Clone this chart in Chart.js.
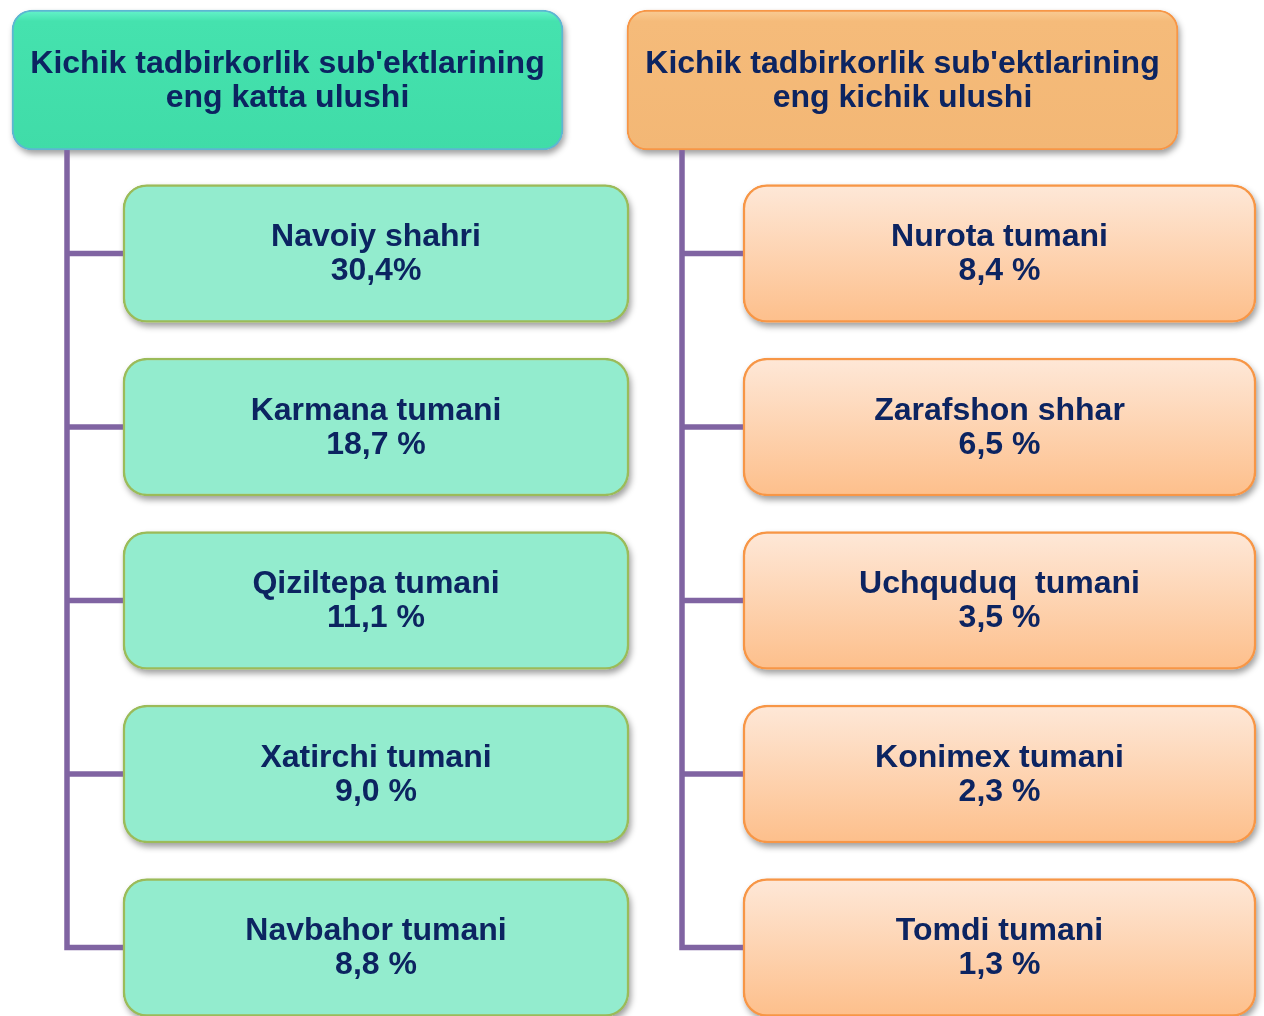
<!DOCTYPE html>
<html>
<head>
<meta charset="utf-8">
<script src="https://cdn.jsdelivr.net/npm/chart.js@4.4.1/dist/chart.umd.min.js"></script>
<style>
  body { margin: 0; background: #fff; }
  #wrap { width: 1264px; height: 1016px; }
</style>
</head>
<body>
<div id="wrap"><canvas id="myChart" width="1264" height="1016"></canvas></div>
<script>
// headers of the two columns
const leftTitle = ["Kichik tadbirkorlik sub'ektlarining", 'eng katta ulushi'];
const rightTitle = ["Kichik tadbirkorlik sub'ektlarining", 'eng kichik ulushi'];

// largest shares
const leftNames = ['Navoiy shahri', 'Karmana tumani', 'Qiziltepa tumani', 'Xatirchi tumani', 'Navbahor tumani'];
const leftShares = ['30,4%', '18,7 %', '11,1 %', '9,0 %', '8,8 %'];

// smallest shares
const rightNames = ['Nurota tumani', 'Zarafshon shhar', 'Uchquduq  tumani', 'Konimex tumani', 'Tomdi tumani'];
const rightShares = ['8,4 %', '6,5 %', '3,5 %', '2,3 %', '1,3 %'];

// layout of the boxes (x extents on the x scale, row = index on y scale)
const layout = {
    leftHead: [12, 563],
    rightHead: [627, 1178],
    leftBox: [123, 629],
    rightBox: [743, 1256],
    leftTrunk: 67,
    rightTrunk: 682,
};

const textColor = '#0C2461';
const lineColor = '#8064A2';

function rows(names, span) {
    return names.map((n, i) => ({ x: span, y: i + 1 }));
}

// gradient of a bar, built from where the y scale puts its row
function barFill(stops, half) {
    return function (ctx) {
        const fallback = stops[stops.length - 1][1];
        const y = ctx.chart.scales.y;
        if (!y || !ctx.parsed || !ctx.chart.chartArea) return fallback;
        const c = y.getPixelForValue(ctx.parsed.y);
        if (!isFinite(c)) return fallback;
        const g = ctx.chart.ctx.createLinearGradient(0, c - half, 0, c + half);
        stops.forEach(s => g.addColorStop(s[0], s[1]));
        return g;
    };
}

// soft shadows under every box, drawn before the boxes themselves
const shadowPlugin = {
    id: 'shadow',
    beforeDatasetsDraw(chart) {
        const c = chart.ctx;
        c.save();
        c.shadowColor = 'rgba(0,0,0,0.38)';
        c.shadowBlur = 6;
        c.shadowOffsetX = 2;
        c.shadowOffsetY = 4;
        c.fillStyle = '#ffffff';
        chart.data.datasets.forEach((ds, di) => {
            chart.getDatasetMeta(di).data.forEach(bar => {
                const p = bar.getProps(['x', 'y', 'base', 'height'], true);
                c.beginPath();
                c.roundRect(p.base, p.y - p.height / 2, p.x - p.base, p.height, ds.borderRadius);
                c.fill();
            });
        });
        c.restore();
    }
};

const connectorPlugin = {
    id: 'connectors',
    beforeDatasetsDraw(chart) {
        const { ctx, scales: { x, y } } = chart;
        const headBottom = y.getPixelForValue(0) + 70;
        const draw = (trunk, boxLeft, n) => {
            const tx = x.getPixelForValue(trunk);
            const bx = x.getPixelForValue(boxLeft);
            ctx.save();
            ctx.strokeStyle = lineColor;
            ctx.lineWidth = 5.5;
            ctx.lineJoin = 'miter';
            ctx.beginPath();
            ctx.moveTo(tx, headBottom);
            ctx.lineTo(tx, y.getPixelForValue(n));
            ctx.lineTo(bx, y.getPixelForValue(n));
            for (let i = 1; i < n; i++) {
                const py = y.getPixelForValue(i);
                ctx.moveTo(tx, py);
                ctx.lineTo(bx, py);
            }
            ctx.stroke();
            ctx.restore();
        };
        draw(layout.leftTrunk, layout.leftBox[0], leftNames.length);
        draw(layout.rightTrunk, layout.rightBox[0], rightNames.length);
    }
};

const textPlugin = {
    id: 'boxText',
    afterDatasetsDraw(chart) {
        const ctx = chart.ctx;
        ctx.save();
        ctx.fillStyle = textColor;
        ctx.font = 'bold 32px "Liberation Sans", Arial, sans-serif';
        ctx.textAlign = 'center';
        ctx.textBaseline = 'middle';
        chart.data.datasets.forEach((ds, di) => {
            const meta = chart.getDatasetMeta(di);
            meta.data.forEach((bar, i) => {
                const p = bar.getProps(['x', 'y', 'base'], true);
                const cx = (p.x + p.base) / 2;
                const lines = ds.textLines(i);
                ctx.fillText(lines[0], cx, p.y - 16);
                ctx.fillText(lines[1], cx, p.y + 18);
            });
        });
        ctx.restore();
    }
};

new Chart('myChart', {
    type: 'bar',
    data: {
        datasets: [
            {
                data: [{ x: layout.leftHead, y: 0 }],
                textLines: () => leftTitle,
                barThickness: 140,
                borderRadius: 20,
                borderSkipped: false,
                borderWidth: 2,
                borderColor: '#5DB6D2',
                backgroundColor: barFill([[0, '#66F3CC'], [0.08, '#45E2AE'], [1, '#40DCA8']], 70),
            },
            {
                data: [{ x: layout.rightHead, y: 0 }],
                textLines: () => rightTitle,
                barThickness: 140,
                borderRadius: 20,
                borderSkipped: false,
                borderWidth: 2,
                borderColor: '#F79646',
                backgroundColor: barFill([[0, '#F9CC96'], [0.08, '#F5BB7A'], [1, '#F3B775']], 70),
            },
            {
                data: rows(leftNames, layout.leftBox),
                textLines: i => [leftNames[i], leftShares[i]],
                barThickness: 138,
                borderRadius: 24,
                borderSkipped: false,
                borderWidth: 2.5,
                borderColor: '#9BBB59',
                backgroundColor: '#93ECCE',
            },
            {
                data: rows(rightNames, layout.rightBox),
                textLines: i => [rightNames[i], rightShares[i]],
                barThickness: 138,
                borderRadius: 24,
                borderSkipped: false,
                borderWidth: 2.5,
                borderColor: '#F79646',
                backgroundColor: barFill([[0, '#FEE8D8'], [1, '#FDBF8B']], 69),
            },
        ],
    },
    options: {
        indexAxis: 'y',
        responsive: false,
        animation: false,
        events: [],
        layout: { padding: 0 },
        datasets: { bar: { grouped: false } },
        plugins: {
            legend: { display: false },
            tooltip: { enabled: false },
        },
        scales: {
            x: { type: 'linear', min: 0, max: 1264, offset: false, display: false },
            y: { type: 'linear', min: -0.461, max: 5.395, reverse: true, offset: false, display: false },
        },
    },
    plugins: [shadowPlugin, connectorPlugin, textPlugin],
});
</script>
</body>
</html>
